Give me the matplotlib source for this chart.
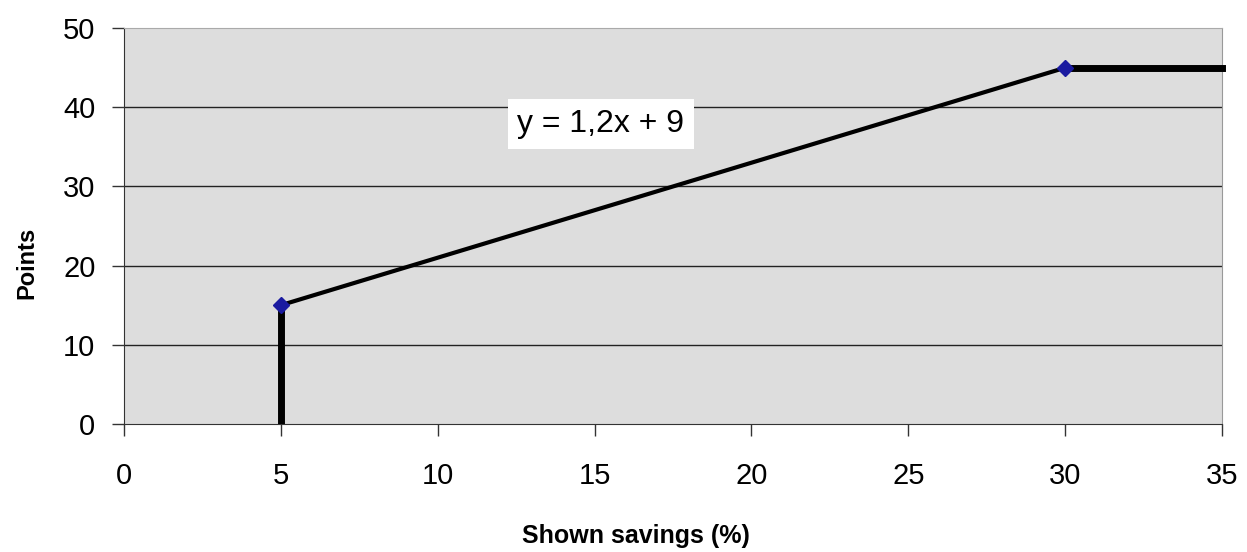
import matplotlib.pyplot as plt

plt.rcParams['font.family'] = ['Liberation Sans', 'DejaVu Sans']

# piecewise scoring rule
floor_x = [5, 5]
floor_y = [0, 15]
slope_x = [5, 30]
slope_y = [15, 45]
cap_x = [30, 35]
cap_y = [45, 45]
point_x = [5, 30]
point_y = [15, 45]
equation = "y = 1,2x + 9"

fig = plt.figure(figsize=(12.47, 5.52), dpi=100)
ax = fig.add_axes([0.0994, 0.232, 0.8806, 0.717])
ax.set_facecolor('#dddddd')

ax.set_xlim(0, 35)
ax.set_ylim(0, 50)
ax.set_xticks(range(0, 36, 5))
ax.set_yticks(range(0, 51, 10))

for y in [10, 20, 30, 40]:
    ax.axhline(y, color='#222222', lw=1.0, zorder=1)

ax.plot(floor_x, floor_y, color='black', lw=5, solid_capstyle='butt', zorder=3)
ax.plot(slope_x, slope_y, color='black', lw=3, zorder=3)
ax.plot(cap_x, cap_y, color='black', lw=5, solid_capstyle='projecting', zorder=3, clip_on=False)
ax.plot(point_x, point_y, linestyle='none', marker='D', color='#1a1aa0', markersize=8, zorder=4)

ax.text(15.2, 37.9, equation, fontsize=23, ha='center', va='center', zorder=5,
        bbox=dict(facecolor='white', edgecolor='none', pad=7))

ax.spines['left'].set_color('#333333')
ax.spines['bottom'].set_color('#333333')
ax.spines['top'].set_color('#aaaaaa')
ax.spines['top'].set_linestyle((0, (2, 1)))
ax.spines['right'].set_color('#999999')

ax.tick_params(axis='both', labelsize=21, length=8.5, color='#333333', width=1)
ax.tick_params(axis='x', pad=19)
ax.tick_params(axis='y', pad=12)

ax.set_xlabel("Shown savings (%)", fontsize=18, fontweight='bold')
ax.xaxis.set_label_coords(0.466, -0.252)
ax.set_ylabel("Points", fontsize=17, fontweight='bold')
ax.yaxis.set_label_coords(-0.078, 0.407)

fig.savefig("out.png", dpi=100)
